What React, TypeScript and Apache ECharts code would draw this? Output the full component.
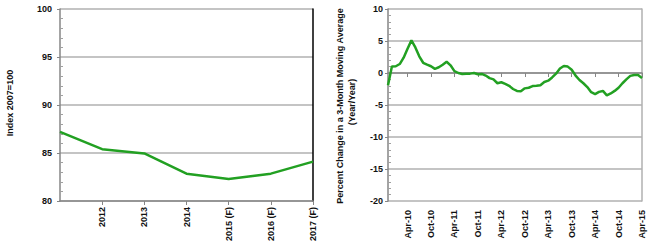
import React, { useEffect, useRef } from "react";
import * as echarts from "echarts";

const years = ["2011", "2012", "2013", "2014", "2015 (F)", "2016 (F)", "2017 (F)"];
const indexValues = [87.2, 85.4, 84.95, 82.85, 82.3, 82.85, 84.1];

const months = [
  "Nov-09", "Dec-09",
  "Jan-10", "Feb-10", "Mar-10", "Apr-10", "May-10", "Jun-10", "Jul-10", "Aug-10", "Sep-10", "Oct-10", "Nov-10", "Dec-10",
  "Jan-11", "Feb-11", "Mar-11", "Apr-11", "May-11", "Jun-11", "Jul-11", "Aug-11", "Sep-11", "Oct-11", "Nov-11", "Dec-11",
  "Jan-12", "Feb-12", "Mar-12", "Apr-12", "May-12", "Jun-12", "Jul-12", "Aug-12", "Sep-12", "Oct-12", "Nov-12", "Dec-12",
  "Jan-13", "Feb-13", "Mar-13", "Apr-13", "May-13", "Jun-13", "Jul-13", "Aug-13", "Sep-13", "Oct-13", "Nov-13", "Dec-13",
  "Jan-14", "Feb-14", "Mar-14", "Apr-14", "May-14", "Jun-14", "Jul-14", "Aug-14", "Sep-14", "Oct-14", "Nov-14", "Dec-14",
  "Jan-15", "Feb-15", "Mar-15", "Apr-15",
];
const pctChange = [
  -1.9, 1.0, 1.05, 1.4, 2.4, 3.8, 5.1, 4.0, 2.6, 1.6, 1.3, 1.05, 0.65, 0.9, 1.3, 1.75, 1.2, 0.3, 0.0, -0.15,
  -0.1, -0.1, 0.0, -0.2, -0.15, -0.4, -0.8, -1.0, -1.6, -1.45, -1.7, -2.0, -2.5, -2.8, -2.85, -2.4, -2.3, -2.05,
  -2.0, -1.9, -1.4, -1.2, -0.7, -0.1, 0.7, 1.1, 1.0, 0.5, -0.4, -1.1, -1.6, -2.2, -3.0, -3.3, -2.95, -2.8, -3.5,
  -3.2, -2.8, -2.3, -1.6, -1.0, -0.45, -0.3, -0.3, -0.8,
];

const leftTitle = "Index 2007=100";
const rightTitle1 = "Percent Change in a 3-Month Moving Average";
const rightTitle2 = "(Year/Year)";

const FONT = "Liberation Sans, Arial, sans-serif";
const GREEN = "#22a022";
const AXIS = "#868686";
const GRID = "#b0b0b0";

export default function App() {
  const ref = useRef<HTMLDivElement>(null);
  useEffect(() => {
    if (!ref.current) return;
    const chart = echarts.init(ref.current, undefined, { renderer: "svg" });
    const labelStyle = { fontFamily: FONT, fontWeight: "bold" as const, fontSize: 9, color: "#111" };
    chart.setOption({
      animation: false,
      backgroundColor: "#fff",
      grid: [
        { left: 60, top: 9, width: 253, height: 192 },
        { left: 388, top: 9, width: 254, height: 192 },
      ],
      xAxis: [
        {
          gridIndex: 0,
          type: "category",
          data: years,
          boundaryGap: false,
          position: "bottom",
          axisLine: { show: true, lineStyle: { color: AXIS, width: 1.5 } },
          axisTick: { show: true, length: 4, lineStyle: { color: AXIS } },
          axisLabel: { ...labelStyle, rotate: 90, margin: 6, interval: (i: number) => i > 0 },
          splitLine: { show: false },
        },
        {
          gridIndex: 1,
          type: "category",
          data: months,
          boundaryGap: false,
          position: "bottom",
          axisLine: { show: false, onZero: false },
          axisTick: { show: false },
          axisLabel: { ...labelStyle, rotate: 90, margin: 9, interval: (i: number) => i % 6 === 5 },
          splitLine: { show: false },
        },
        {
          gridIndex: 1,
          type: "category",
          data: months,
          boundaryGap: false,
          position: "top",
          axisLine: { show: true, onZero: true, lineStyle: { color: AXIS, width: 1.5 } },
          axisTick: { show: true, inside: true, length: 4, interval: (i: number) => i % 6 === 5, lineStyle: { color: AXIS } },
          axisLabel: { show: false },
          splitLine: { show: false },
        },
      ],
      yAxis: [
        {
          gridIndex: 0,
          type: "value",
          min: 80,
          max: 100,
          interval: 5,
          position: "left",
          axisLine: { show: true, lineStyle: { color: AXIS, width: 1.5 } },
          axisTick: { show: true, length: 3, lineStyle: { color: AXIS } },
          axisLabel: { ...labelStyle, margin: 8 },
          splitLine: { show: true, lineStyle: { color: GRID, width: 1.5 } },
        },
        {
          gridIndex: 0,
          type: "value",
          min: 80,
          max: 100,
          interval: 5,
          position: "left",
          axisLine: { show: false },
          axisTick: { show: false, inside: true },
          minorTick: { show: true, splitNumber: 5, length: 3, lineStyle: { color: "#a0a0a0" } },
          axisLabel: { show: false },
          splitLine: { show: false },
        },
        {
          gridIndex: 0,
          type: "value",
          min: 80,
          max: 100,
          interval: 5,
          position: "right",
          axisLine: { show: true, lineStyle: { color: "#000", width: 1.5 } },
          axisTick: { show: false },
          axisLabel: { show: false },
          splitLine: { show: false },
        },
        {
          gridIndex: 1,
          type: "value",
          min: -20,
          max: 10,
          interval: 5,
          position: "left",
          axisLine: { show: true, lineStyle: { color: AXIS, width: 1.5 } },
          axisTick: { show: true, length: 3, lineStyle: { color: AXIS } },
          axisLabel: { ...labelStyle, margin: 5 },
          splitLine: { show: true, lineStyle: { color: GRID, width: 1.5 } },
        },
        {
          gridIndex: 1,
          type: "value",
          min: -20,
          max: 10,
          interval: 5,
          position: "left",
          axisLine: { show: false },
          axisTick: { show: false, inside: true },
          minorTick: { show: true, splitNumber: 5, length: 3, lineStyle: { color: "#a0a0a0" } },
          axisLabel: { show: false },
          splitLine: { show: false },
        },
        {
          gridIndex: 1,
          type: "value",
          min: -20,
          max: 10,
          interval: 5,
          position: "right",
          axisLine: { show: true, lineStyle: { color: GRID, width: 1.5 } },
          axisTick: { show: false },
          axisLabel: { show: false },
          splitLine: { show: false },
        },
      ],
      series: [
        {
          type: "line",
          xAxisIndex: 0,
          yAxisIndex: 0,
          data: indexValues,
          showSymbol: false,
          symbol: "none",
          lineStyle: { color: GREEN, width: 2.5 },
          z: 5,
        },
        {
          type: "line",
          xAxisIndex: 1,
          yAxisIndex: 3,
          data: pctChange,
          showSymbol: false,
          symbol: "none",
          lineStyle: { color: GREEN, width: 2.5 },
          z: 5,
        },
      ],
      graphic: [
        {
          type: "text",
          x: 10,
          y: 103,
          rotation: Math.PI / 2,
          style: {
            text: leftTitle,
            font: `bold 9px ${FONT}`,
            fill: "#111",
            textAlign: "center",
            textVerticalAlign: "middle",
            align: "center",
            verticalAlign: "middle",
          },
        },
        {
          type: "text",
          x: 340,
          y: 106,
          rotation: Math.PI / 2,
          style: {
            text: rightTitle1,
            font: `bold 9px ${FONT}`,
            fill: "#111",
            textAlign: "center",
            textVerticalAlign: "middle",
            align: "center",
            verticalAlign: "middle",
          },
        },
        {
          type: "text",
          x: 352,
          y: 102,
          rotation: Math.PI / 2,
          style: {
            text: rightTitle2,
            font: `bold 9px ${FONT}`,
            fill: "#111",
            textAlign: "center",
            textVerticalAlign: "middle",
            align: "center",
            verticalAlign: "middle",
          },
        },
      ],
    });
    return () => chart.dispose();
  }, []);
  return (
    <div
      ref={ref}
      style={{ position: "fixed", left: 0, top: 0, width: 650, height: 247, background: "#fff" }}
    />
  );
}
